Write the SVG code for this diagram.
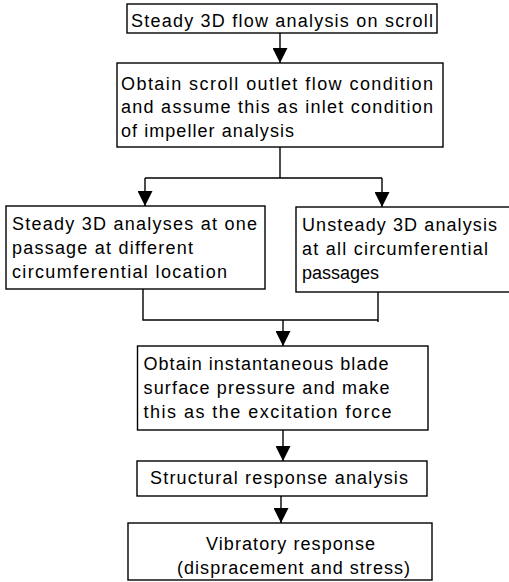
<svg xmlns="http://www.w3.org/2000/svg" width="509" height="582" viewBox="0 0 509 582">
<defs>
<marker id="ah" markerUnits="userSpaceOnUse" markerWidth="15" markerHeight="15" viewBox="0 0 15 15" refX="15" refY="7.5" orient="auto">
<path d="M0,0 L15,7.5 L0,15 z" fill="#000"/>
</marker>
<style>
rect{fill:#fff;stroke:#000;stroke-width:1.4}
text{font-family:"Liberation Sans","Noto Sans CJK JP",sans-serif;font-size:18px;fill:#000}
.c{fill:none;stroke:#000;stroke-width:1.4}
</style>
</defs>
<rect x="0" y="0" width="509" height="582" style="fill:#fff;stroke:none"/>
<g id="connectors">
<line class="c" x1="280" y1="33" x2="280" y2="63" marker-end="url(#ah)"/>
<polyline class="c" points="280,147 280,178"/>
<polyline class="c" points="145,178 382,178"/>
<line class="c" x1="145" y1="178" x2="145" y2="206" marker-end="url(#ah)"/>
<line class="c" x1="382" y1="178" x2="382" y2="207" marker-end="url(#ah)"/>
<polyline class="c" points="143,289 143,320 378,320"/>
<polyline class="c" points="378,292 378,322"/>
<line class="c" x1="283" y1="320" x2="283" y2="346" marker-end="url(#ah)"/>
<line class="c" x1="283" y1="430" x2="283" y2="461" marker-end="url(#ah)"/>
<line class="c" x1="281" y1="496" x2="281" y2="523" marker-end="url(#ah)"/>
</g>
<g id="n1">
<rect x="127" y="4" width="310" height="29"/>
<text x="131" y="27" textLength="302" lengthAdjust="spacing">Steady 3D flow analysis on scroll</text>
</g>
<g id="n2">
<rect x="117" y="63" width="326" height="84"/>
<text x="121" y="89.5" textLength="312" lengthAdjust="spacing">Obtain scroll outlet flow condition</text>
<text x="121" y="113" textLength="312" lengthAdjust="spacing">and assume this as inlet condition</text>
<text x="121" y="136.5" textLength="173" lengthAdjust="spacing">of impeller analysis</text>
</g>
<g id="n3">
<rect x="6" y="206" width="259" height="83"/>
<text x="12" y="230" textLength="245" lengthAdjust="spacing">Steady 3D analyses at one</text>
<text x="12" y="253.5" textLength="181" lengthAdjust="spacing">passage at different</text>
<text x="12" y="277.5" textLength="215" lengthAdjust="spacing">circumferential location</text>
</g>
<g id="n4">
<rect x="296" y="207" width="220" height="85"/>
<text x="302" y="231" textLength="195" lengthAdjust="spacing">Unsteady 3D analysis</text>
<text x="302" y="255" textLength="186" lengthAdjust="spacing">at all circumferential</text>
<text x="302" y="278.5">passages</text>
</g>
<g id="n5">
<rect x="137.5" y="346" width="290.5" height="84"/>
<text x="143.5" y="370" textLength="245" lengthAdjust="spacing">Obtain instantaneous blade</text>
<text x="143.5" y="393.5" textLength="246" lengthAdjust="spacing">surface pressure and make</text>
<text x="143.5" y="418" textLength="248" lengthAdjust="spacing">this as the excitation force</text>
</g>
<g id="n6">
<rect x="137" y="461" width="290" height="35"/>
<text x="150" y="484" textLength="258" lengthAdjust="spacing">Structural response analysis</text>
</g>
<g id="n7">
<rect x="128" y="523" width="304" height="57"/>
<text x="206" y="550" textLength="169" lengthAdjust="spacing">Vibratory response</text>
<text x="177" y="574" textLength="233" lengthAdjust="spacing">(dispracement and stress)</text>
</g>
</svg>
